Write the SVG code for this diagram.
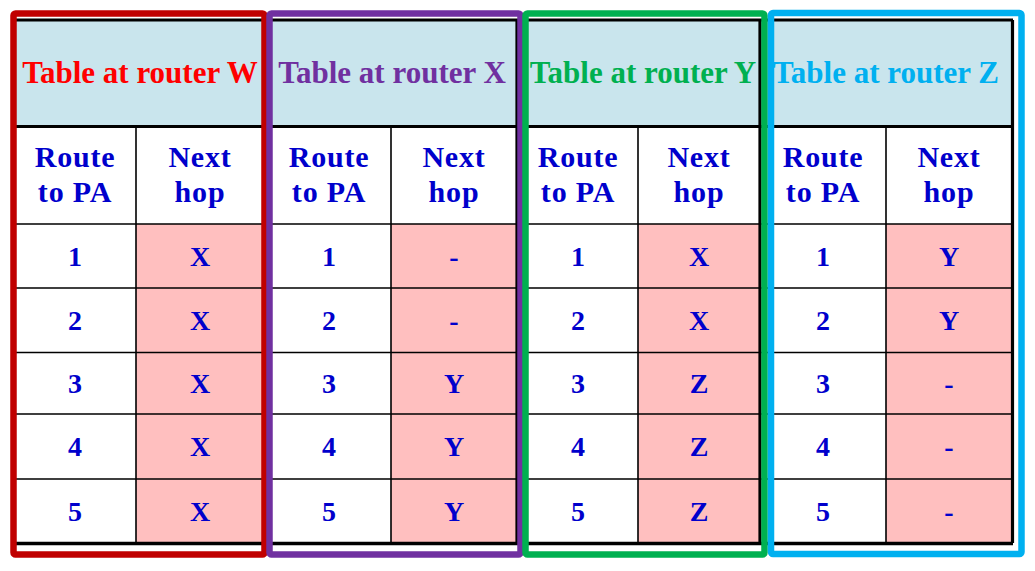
<svg xmlns="http://www.w3.org/2000/svg" width="1035" height="571" viewBox="0 0 1035 571">
<style>
.hdr{fill:#C9E5ED}
.pink{fill:#FFBFBF}
.thick{stroke:#000;stroke-width:3.2;fill:none}
.thin{stroke:#000;stroke-width:1.6;fill:none}
.title{font-family:"Liberation Serif","Times New Roman",serif;font-weight:bold;font-size:31px;text-anchor:middle}
.col{font-family:"Liberation Serif","Times New Roman",serif;font-weight:bold;font-size:30px;letter-spacing:0.8px;text-anchor:middle;fill:#0000CC}
.val{font-family:"Liberation Serif","Times New Roman",serif;font-weight:bold;font-size:28px;text-anchor:middle;fill:#0000CC}
.frame{fill:none;stroke-width:6.5}
</style>
<rect width="1035" height="571" fill="#fff"/>
<g id="grid">
<rect class="hdr" x="14" y="20" width="999" height="106"/>
<rect class="pink" x="136" y="224" width="128" height="319"/>
<rect class="pink" x="391" y="224" width="126" height="319"/>
<rect class="pink" x="638" y="224" width="122" height="319"/>
<rect class="pink" x="886" y="224" width="127" height="319"/>
<path class="thin" d="M14 224H1013M14 288H1013M14 352.5H1013M14 414H1013M14 479H1013"/>
<path class="thin" d="M136 126V543M391 126V543M638 126V543M886 126V543"/>
<path class="thick" d="M264 20V543M517 20V543M760 20V543M14 20V543M1012.5 20V543"/>
<path class="thick" d="M14 20H1013M14 126.5H1013"/>
<path d="M14 543.5H1013" stroke="#000" stroke-width="3.6"/>
</g>
<g id="table-w">
<text class="title" x="140" y="83" fill="#FF0000">Table at router W</text>
<text class="col" x="75" y="167">Route</text>
<text class="col" x="75" y="202">to PA</text>
<text class="col" x="200" y="167">Next</text>
<text class="col" x="200" y="202">hop</text>
<text class="val" x="75" y="266">1</text><text class="val" x="200" y="266">X</text>
<text class="val" x="75" y="330">2</text><text class="val" x="200" y="330">X</text>
<text class="val" x="75" y="393">3</text><text class="val" x="200" y="393">X</text>
<text class="val" x="75" y="456">4</text><text class="val" x="200" y="456">X</text>
<text class="val" x="75" y="521">5</text><text class="val" x="200" y="521">X</text>
<rect class="frame" x="13.5" y="13.5" width="251" height="541" rx="2" stroke="#C00000"/>
</g>
<g id="table-x">
<text class="title" x="392" y="83" fill="#7030A0">Table at router X</text>
<text class="col" x="329" y="167">Route</text>
<text class="col" x="329" y="202">to PA</text>
<text class="col" x="454" y="167">Next</text>
<text class="col" x="454" y="202">hop</text>
<text class="val" x="329" y="266">1</text><text class="val" x="454" y="266">-</text>
<text class="val" x="329" y="330">2</text><text class="val" x="454" y="330">-</text>
<text class="val" x="329" y="393">3</text><text class="val" x="454" y="393">Y</text>
<text class="val" x="329" y="456">4</text><text class="val" x="454" y="456">Y</text>
<text class="val" x="329" y="521">5</text><text class="val" x="454" y="521">Y</text>
<rect class="frame" x="269.5" y="13.5" width="251" height="541" rx="2" stroke="#7030A0"/>
</g>
<g id="table-y">
<text class="title" x="643" y="83" fill="#00B050">Table at router Y</text>
<text class="col" x="578" y="167">Route</text>
<text class="col" x="578" y="202">to PA</text>
<text class="col" x="699" y="167">Next</text>
<text class="col" x="699" y="202">hop</text>
<text class="val" x="578" y="266">1</text><text class="val" x="699" y="266">X</text>
<text class="val" x="578" y="330">2</text><text class="val" x="699" y="330">X</text>
<text class="val" x="578" y="393">3</text><text class="val" x="699" y="393">Z</text>
<text class="val" x="578" y="456">4</text><text class="val" x="699" y="456">Z</text>
<text class="val" x="578" y="521">5</text><text class="val" x="699" y="521">Z</text>
<rect class="frame" x="525.5" y="13.5" width="239" height="541" rx="2" stroke="#00B050"/>
</g>
<g id="table-z">
<text class="title" x="886" y="83" fill="#00B0F0">Table at router Z</text>
<text class="col" x="823" y="167">Route</text>
<text class="col" x="823" y="202">to PA</text>
<text class="col" x="949" y="167">Next</text>
<text class="col" x="949" y="202">hop</text>
<text class="val" x="823" y="266">1</text><text class="val" x="949" y="266">Y</text>
<text class="val" x="823" y="330">2</text><text class="val" x="949" y="330">Y</text>
<text class="val" x="823" y="393">3</text><text class="val" x="949" y="393">-</text>
<text class="val" x="823" y="456">4</text><text class="val" x="949" y="456">-</text>
<text class="val" x="823" y="521">5</text><text class="val" x="949" y="521">-</text>
<rect class="frame" x="771" y="13" width="250.5" height="541" rx="2" stroke="#00B0F0"/>
</g>
</svg>
